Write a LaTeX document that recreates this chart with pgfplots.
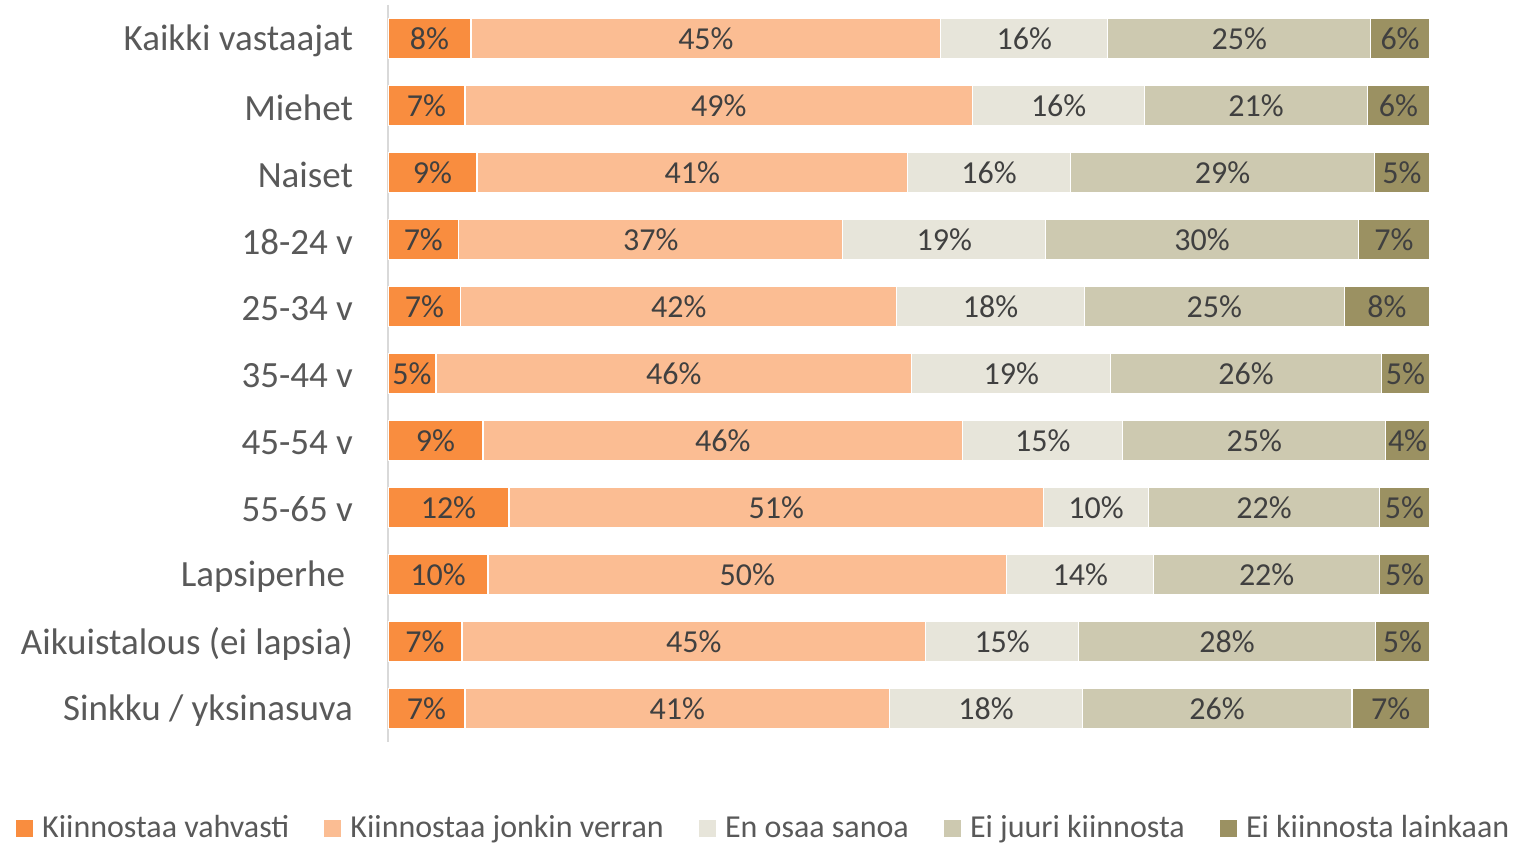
\documentclass[border=0pt]{standalone}
\usepackage{fontspec}
\setmainfont{Carlito}
\usepackage{pgfplots}
\usepackage{pgfplotstable}
\pgfplotsset{compat=1.18}
\definecolor{c1}{HTML}{F98D3F}
\definecolor{c2}{HTML}{FBBD93}
\definecolor{c3}{HTML}{E7E5DA}
\definecolor{c4}{HTML}{CDC9B0}
\definecolor{c5}{HTML}{9B9162}
\definecolor{txt}{HTML}{404040}
\definecolor{lab}{HTML}{595959}
\definecolor{axl}{HTML}{D9D9D9}
\pgfplotstableread{
idx a b c d e la lb lc ld le
0 7.97 45.11 16.03 25.24 5.65 8 45 16 25 6
1 7.39 48.75 16.51 21.40 5.95 7 49 16 21 6
2 8.54 41.36 15.64 29.17 5.28 9 41 16 29 5
3 6.78 36.89 19.48 30.04 6.81 7 37 19 30 7
4 6.98 41.87 18.00 24.99 8.16 7 42 18 25 8
5 4.61 45.68 19.10 26.01 4.60 5 46 19 26 5
6 9.12 46.07 15.36 25.24 4.21 9 46 15 25 4
7 11.61 51.34 10.08 22.17 4.80 12 51 10 22 5
8 9.60 49.81 14.11 21.69 4.79 10 50 14 22 5
9 7.10 44.53 14.68 28.50 5.18 7 45 15 28 5
10 7.39 40.79 18.47 25.91 7.44 7 41 18 26 7
}\data
\pgfplotsset{
  seg/.style={
    fill=#1, draw=white, line width=0.6pt,
    point meta=explicit symbolic,
    nodes near coords={\pgfplotspointmeta\%},
  },
}
\begin{document}
\begin{tikzpicture}
\begin{axis}[
  scale only axis,
  width=521pt, height=368.5pt,
  xbar stacked,
  bar width=0.6,
  xmin=0, xmax=100.05,
  ymin=-0.5, ymax=10.5,
  y dir=reverse,
  axis x line=none,
  axis y line*=left,
  y axis line style={draw=axl, line width=0.8pt, -},
  ytick={0,...,10},
  yticklabels={Kaikki vastaajat, Miehet, Naiset, 18-24 v, 25-34 v, 35-44 v, 45-54 v, 55-65 v, Lapsiperhe\kern4pt, Aikuistalous (ei lapsia), Sinkku / yksinasuva},
  major tick length=0pt,
  yticklabel style={font=\fontsize{18.5}{22}\selectfont, text=lab, xshift=-14pt, yshift=-1pt},
  every node near coord/.append style={font=\fontsize{16}{19}\selectfont, text=txt, anchor=center},
  legend style={draw=none, fill=none, at={(0.361,-0.117)}, anchor=center,
    legend columns=5, font=\fontsize{16}{19}\selectfont, text=lab,
    /tikz/every even column/.append style={column sep=15pt},
    nodes={inner sep=2pt}},
  legend image code/.code={\fill[#1] (0pt,-4.5pt) rectangle (9pt,4.5pt); \path (11pt,0pt);},
]
\addplot[seg=c1] table[x=a, y=idx, meta=la] {\data};
\addplot[seg=c2] table[x=b, y=idx, meta=lb] {\data};
\addplot[seg=c3] table[x=c, y=idx, meta=lc] {\data};
\addplot[seg=c4] table[x=d, y=idx, meta=ld] {\data};
\addplot[seg=c5] table[x=e, y=idx, meta=le] {\data};
\legend{Kiinnostaa vahvasti, Kiinnostaa jonkin verran, En osaa sanoa, Ei juuri kiinnosta, Ei kiinnosta lainkaan}
\end{axis}
\pgfresetboundingbox
\path (current axis.south west) ++(-194pt,-51pt) rectangle ++(767pt,422pt);
\end{tikzpicture}
\end{document}
